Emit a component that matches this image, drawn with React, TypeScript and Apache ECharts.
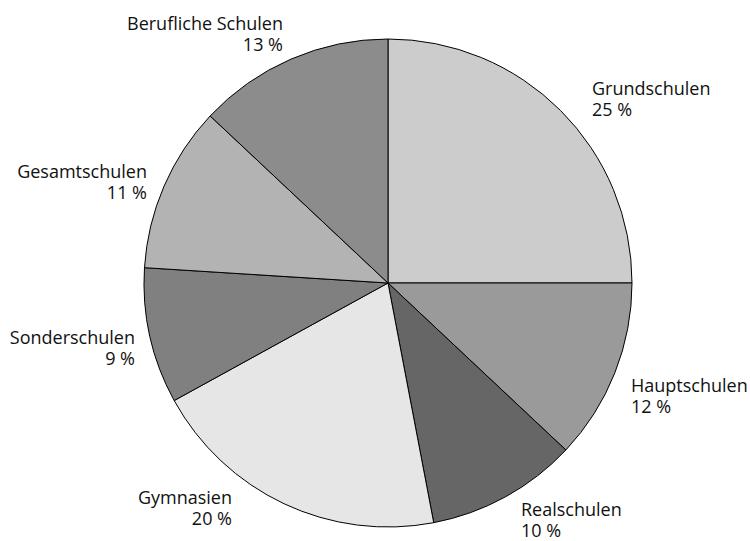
import React, { useEffect, useRef } from "react";
import * as echarts from "echarts";

const categories = [
  "Grundschulen",
  "Hauptschulen",
  "Realschulen",
  "Gymnasien",
  "Sonderschulen",
  "Gesamtschulen",
  "Berufliche Schulen",
];
const shares = [25, 12, 10, 20, 9, 11, 13];
const sliceColors = ["#cccccc", "#9a9a9a", "#666666", "#e6e6e6", "#808080", "#b3b3b3", "#8c8c8c"];

// label anchor placement (x, y, horizontal alignment)
const labelAnchors: [number, number, "left" | "right"][] = [
  [592, 98, "left"],
  [631, 395, "left"],
  [521, 519, "left"],
  [232, 507, "right"],
  [135, 347, "right"],
  [147, 181, "right"],
  [283, 33, "right"],
];

export default function App() {
  const ref = useRef<HTMLDivElement>(null);
  useEffect(() => {
    if (!ref.current) return;
    const chart = echarts.init(ref.current, null, { renderer: "svg" });
    chart.setOption({
      animation: false,
      backgroundColor: "#ffffff",
      series: [
        {
          type: "pie",
          center: [388, 283],
          radius: 244,
          startAngle: 90,
          clockwise: true,
          avoidLabelOverlap: false,
          silent: true,
          itemStyle: { borderColor: "#000000", borderWidth: 1 },
          label: {
            show: true,
            position: "outside",
            formatter: "{b}\n{c} %",
            fontFamily: "Open Sans",
            fontSize: 18,
            lineHeight: 21,
            color: "#111111",
          },
          labelLine: { show: false },
          labelLayout: (params: any) => {
            const a = labelAnchors[params.dataIndex];
            return { x: a[0], y: a[1], align: a[2], verticalAlign: "middle" };
          },
          data: categories.map((name, i) => ({
            name,
            value: shares[i],
            itemStyle: { color: sliceColors[i] },
          })),
        },
      ],
    });
    return () => chart.dispose();
  }, []);
  return (
    <div
      ref={ref}
      style={{ position: "fixed", left: 0, top: 0, width: 750, height: 541 }}
    />
  );
}
